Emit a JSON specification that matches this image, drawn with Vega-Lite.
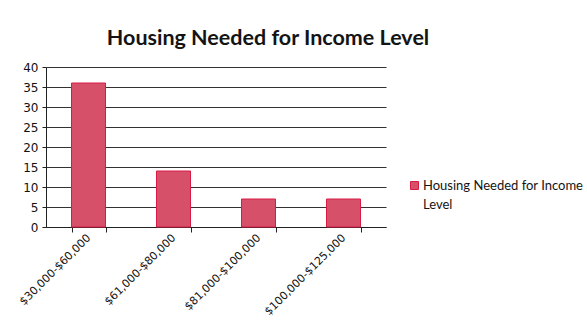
{
  "$schema": "https://vega.github.io/schema/vega-lite/v6.json",
  "width": 340,
  "height": 160,
  "autosize": {"type": "none"},
  "padding": {"left": 46, "top": 67, "right": 201, "bottom": 107},
  "background": "white",
  "title": {
    "text": "Housing Needed for Income Level",
    "font": "Lato",
    "fontSize": 21.5,
    "fontWeight": "bold",
    "color": "#141414",
    "anchor": "middle",
    "frame": "group",
    "dx": 52,
    "offset": 12
  },
  "data": {
    "values": [
      {"range": "$30,000-$60,000", "count": 36, "series": "Housing Needed for Income Level"},
      {"range": "$61,000-$80,000", "count": 14, "series": "Housing Needed for Income Level"},
      {"range": "$81,000-$100,000", "count": 7, "series": "Housing Needed for Income Level"},
      {"range": "$100,000-$125,000", "count": 7, "series": "Housing Needed for Income Level"}
    ]
  },
  "mark": {"type": "bar", "stroke": "#d81b45", "strokeWidth": 1},
  "encoding": {
    "x": {
      "field": "range",
      "type": "nominal",
      "sort": null,
      "title": null,
      "scale": {"paddingInner": 0.6, "paddingOuter": 0.3},
      "axis": {
        "labelAngle": -45,
        "labelAlign": "right",
        "labelBaseline": "middle",
        "labelFont": "DejaVu Sans",
        "labelFontSize": 11,
        "labelColor": "#111",
        "labelPadding": 4,
        "tickBand": "extent",
        "tickSize": 5,
        "tickColor": "#222",
        "domainColor": "#222",
        "labelOffset": 0
      }
    },
    "y": {
      "field": "count",
      "type": "quantitative",
      "title": null,
      "scale": {"domain": [0, 40]},
      "axis": {
        "values": [0, 5, 10, 15, 20, 25, 30, 35, 40],
        "labelFont": "DejaVu Sans",
        "labelFontSize": 12,
        "labelColor": "#111",
        "tickSize": 4,
        "tickColor": "#222",
        "domainColor": "#222",
        "gridColor": "#333",
        "gridOpacity": 1,
        "labelPadding": 4
      }
    },
    "color": {
      "field": "series",
      "type": "nominal",
      "scale": {"range": ["#d6506a"]},
      "legend": {
        "title": null,
        "orient": "none",
        "legendX": 362,
        "legendY": 112,
        "symbolType": "square",
        "symbolSize": 64,
        "symbolStrokeColor": "#d81b45",
        "symbolStrokeWidth": 1,
        "labelFont": "Lato",
        "labelFontSize": 13,
        "labelColor": "#141414",
        "labelLimit": 300,
        "labelOffset": 2,
        "labelExpr": "['Housing Needed for Income', 'Level']",
        "encode": {"labels": {"update": {"lineHeight": {"value": 19}}}}
      }
    }
  },
  "config": {
    "view": {"stroke": null}
  }
}
